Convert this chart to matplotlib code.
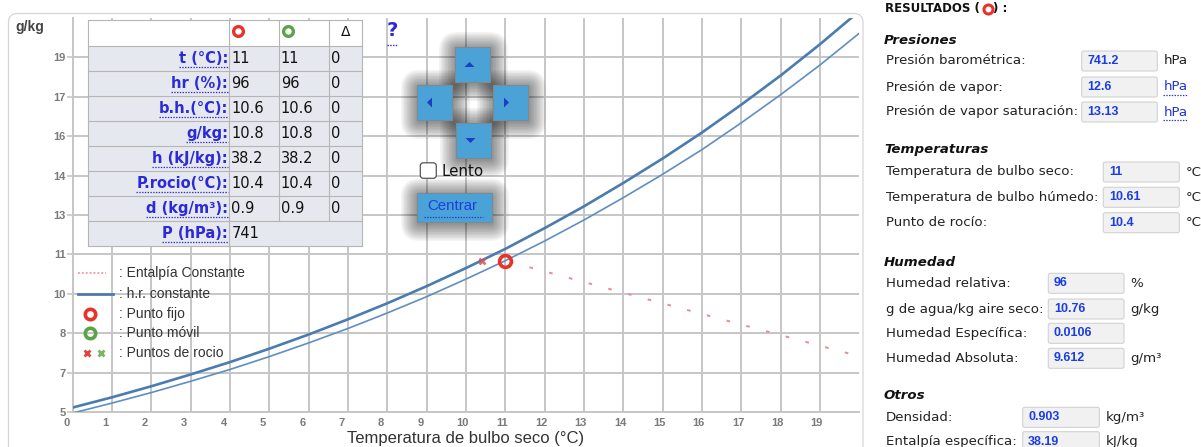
import matplotlib
matplotlib.use('Agg')
import matplotlib.pyplot as plt
from matplotlib.patches import FancyBboxPatch, Rectangle, Polygon
from matplotlib.lines import Line2D
from matplotlib.transforms import Affine2D, ScaledTranslation

# ---------------- data ----------------
temps = [0, 1, 2, 3, 4, 5, 6, 7, 8, 9, 10, 11, 12, 13, 14, 15, 16, 17, 18, 19, 20]
sat_gkg = [5.17, 5.56, 5.98, 6.43, 6.90, 7.41, 7.95, 8.53, 9.14, 9.79, 10.48,
           11.21, 12.00, 12.83, 13.72, 14.65, 15.64, 16.70, 17.81, 19.00, 20.26]
hr96_gkg = [4.96, 5.34, 5.74, 6.17, 6.62, 7.11, 7.63, 8.18, 8.77, 9.39, 10.06,
            10.76, 11.51, 12.31, 13.16, 14.05, 14.99, 16.01, 17.08, 18.21, 19.42]
enth_t = [11, 14, 17, 20]
enth_gkg = [10.76, 9.54, 8.33, 7.12]
fixed_point = (11, 10.76)
dew_point = (10.4, 10.76)

x_ticks = list(range(0, 20))
x_tick_labels = [str(v) for v in x_ticks]
y_ticks = [5, 6.5, 8, 9.5, 11, 12.5, 14, 15.5, 17, 18.5]
y_tick_labels = ['5', '7', '8', '10', '11', '13', '14', '16', '17', '19']

legend_labels = [': Entalpía Constante', ': h.r. constante', ': Punto fijo',
                 ': Punto móvil', ': Puntos de rocio']

table_row_labels = ['t (°C):', 'hr (%):', 'b.h.(°C):', 'g/kg:', 'h (kJ/kg):',
                    'P.rocio(°C):', 'd (kg/m³):', 'P (hPa):']
table_fixed = ['11', '96', '10.6', '10.8', '38.2', '10.4', '0.9', '741']
table_mobile = ['11', '96', '10.6', '10.8', '38.2', '10.4', '0.9']
table_delta = ['0', '0', '0', '0', '0', '0', '0']

section_titles = ['Presiones', 'Temperaturas', 'Humedad', 'Otros']
pres_labels = ['Presión barométrica:', 'Presión de vapor:', 'Presión de vapor saturación:']
pres_values = ['741.2', '12.6', '13.13']
pres_units = ['hPa', 'hPa', 'hPa']
temp_labels = ['Temperatura de bulbo seco:', 'Temperatura de bulbo húmedo:', 'Punto de rocío:']
temp_values = ['11', '10.61', '10.4']
temp_units = ['°C', '°C', '°C']
hum_labels = ['Humedad relativa:', 'g de agua/kg aire seco:', 'Humedad Específica:', 'Humedad Absoluta:']
hum_values = ['96', '10.76', '0.0106', '9.612']
hum_units = ['%', 'g/kg', '', 'g/m³']
otros_labels = ['Densidad:', 'Entalpía específica:']
otros_values = ['0.903', '38.19']
otros_units = ['kg/m³', 'kJ/kg']

# ---------------- figure ----------------
W, H = 1201, 447
plt.rcParams['lines.scale_dashes'] = False
fig = plt.figure(figsize=(W / 100, H / 100), dpi=100)
fig.patch.set_facecolor('white')
T = Affine2D().scale(1 / W, -1 / H).translate(0, 1) + fig.transFigure

ARIAL = 'Liberation Sans'
VERD = 'DejaVu Sans'
BLUE_LINK = '#2233dd'
underlines = []


def ptext(x, y, s, **kw):
    kw.setdefault('va', 'center')
    t = fig.text(x, y, s, transform=T, **kw)
    return t


def prect(x, y, w, h, fc, ec='none', lw=0.8, z=5, r=0, alpha=1.0):
    if r > 0:
        p = FancyBboxPatch((x, y), w, h, boxstyle=f'round,pad=0,rounding_size={r}',
                           transform=T, fc=fc, ec=ec, lw=lw, zorder=z, alpha=alpha)
    else:
        p = Rectangle((x, y), w, h, transform=T, fc=fc, ec=ec, lw=lw, zorder=z, alpha=alpha)
    fig.add_artist(p)
    return p


def pline(xs, ys, **kw):
    l = Line2D(xs, ys, transform=T, **kw)
    fig.add_artist(l)
    return l


# outer frame of the chart
prect(8.5, 13.5, 854.5, 480, fc='white', ec='#d6d6d6', lw=0.9, z=0, r=9)

# ---------------- main axes ----------------
x0, x1, ytop, ybot = 72.7, 859.3, 18.0, 412.0
ax = fig.add_axes([x0 / W, 1 - ybot / H, (x1 - x0) / W, (ybot - ytop) / H])
ax.set_zorder(1)
ax.patch.set_alpha(0)
ax.set_xlim(0, 20)
ax.set_ylim(5, 20)
grid_c = '#c6c6c6'
ax.set_xticks(x_ticks)
ax.set_xticklabels(x_tick_labels)
ax.set_yticks(y_ticks)
ax.set_yticklabels(y_tick_labels)
ax.grid(True, color=grid_c, lw=1.4)
for s in ['top', 'right']:
    ax.spines[s].set_visible(False)
for s in ['left', 'bottom']:
    ax.spines[s].set_color(grid_c)
    ax.spines[s].set_linewidth(1.4)
ax.tick_params(axis='y', length=4, color=grid_c, width=1.2, pad=1,
               labelsize=8, labelcolor='#7a7a7a')
ax.tick_params(axis='x', length=0, pad=4, labelsize=8, labelcolor='#7a7a7a')
for lab in ax.get_yticklabels() + ax.get_xticklabels():
    lab.set_fontfamily(ARIAL)
    lab.set_fontweight('bold')
for lab in ax.get_xticklabels():
    lab.set_ha('left')
    lab.set_transform(lab.get_transform() + ScaledTranslation(-9.5 / 100, 0, fig.dpi_scale_trans))

ax.plot(temps, sat_gkg, color='#4a7cb0', lw=1.9, zorder=3)
ax.plot(temps, hr96_gkg, color='#5f8fc1', lw=1.2, zorder=3)
ax.plot(enth_t, enth_gkg, color='#ec8a92', lw=1.4, zorder=3,
        linestyle=(11.4, (2.6, 12.1)))
ax.plot([dew_point[0]], [dew_point[1]], marker='x', ms=5, mew=1.8,
        color='#d8524f', alpha=0.85, zorder=4, ls='none')
ax.plot([fixed_point[0]], [fixed_point[1]], marker='o', ms=8.5, mew=2.6,
        mfc='none', mec='#e8332a', zorder=5, ls='none')

ptext(29.5, 27, 'g/kg', ha='center', fontsize=10, fontweight='bold', color='#444', family=ARIAL)
ptext(466, 439, 'Temperatura de bulbo seco (°C)', ha='center', fontsize=12,
      color='#333', family=ARIAL)

# ---------------- legend ----------------
leg_y = [273.3, 294, 314, 333.3, 352.7]
pline([78, 106], [leg_y[0]] * 2, color='#f08d95', lw=1.2, linestyle=(0, (1.3, 1.5)), zorder=6)
pline([78, 113], [leg_y[1]] * 2, color='#4a7cb0', lw=2.0, zorder=6)
pline([90], [leg_y[2]], marker='o', ms=7.5, mew=2.6, mfc='none', mec='#e8332a', zorder=6)
pline([90], [leg_y[3]], marker='o', ms=7.5, mew=2.6, mfc='none', mec='#5aa447', zorder=6)
pline([86.7], [leg_y[4]], marker='x', ms=4.5, mew=2.0, color='#e0453c', zorder=6)
pline([100.7], [leg_y[4]], marker='x', ms=4.5, mew=2.0, color='#78b85c', zorder=6)
for yy, s in zip(leg_y, legend_labels):
    ptext(119.3, yy, s, ha='left', fontsize=10, color='#333', family=ARIAL, zorder=6)

# ---------------- data table ----------------
tx0, tx1 = 87.5, 361.7
cols = [229.3, 279.3, 329.3]
row_top = 46.0
row_h = 25.0
nrows = len(table_row_labels)
tbot = row_top + nrows * row_h
prect(tx0, 20, tx1 - tx0, row_top - 20, fc='white', z=7)
prect(tx0, row_top, tx1 - tx0, tbot - row_top, fc='#e6e8ef', z=7)
bc = '#b5b5b5'
for i in range(nrows + 1):
    yy = row_top + i * row_h
    pline([tx0, tx1], [yy, yy], color=bc, lw=0.8, zorder=8)
pline([tx0, tx1], [20, 20], color=bc, lw=0.8, zorder=8)
pline([tx0, tx0], [20, tbot], color=bc, lw=0.8, zorder=8)
pline([tx1, tx1], [20, tbot], color=bc, lw=0.8, zorder=8)
pline([cols[0], cols[0]], [20, tbot], color=bc, lw=0.8, zorder=8)
for c in cols[1:]:
    pline([c, c], [20, tbot - row_h], color=bc, lw=0.8, zorder=8)
# header icons
pline([238.3], [30.5], marker='o', ms=7, mew=2.4, mfc='none', mec='#e8332a', zorder=9)
pline([288.3], [30.5], marker='o', ms=7, mew=2.4, mfc='none', mec='#5aa447', zorder=9)
ptext(345.5, 32, 'Δ', ha='center', fontsize=10, color='#111', family=VERD, zorder=9)
for i, lab in enumerate(table_row_labels):
    yc = row_top + (i + 0.5) * row_h
    t = ptext(228, yc, lab, ha='right', fontsize=10.5, fontweight='bold',
              color='#2a2ad8', family=VERD, zorder=9)
    underlines.append((t, 8.5, '#2a2ad8'))
    ptext(cols[0] + 2, yc, table_fixed[i], ha='left', fontsize=10.5, color='#111',
          family=VERD, zorder=9)
    if i < len(table_mobile):
        ptext(cols[1] + 1.5, yc, table_mobile[i], ha='left', fontsize=10.5, color='#111',
              family=VERD, zorder=9)
        ptext(cols[2] + 1.5, yc, table_delta[i], ha='left', fontsize=10.5, color='#111',
              family=VERD, zorder=9)

# question mark
q = ptext(392, 31, '?', ha='center', fontsize=14, fontweight='bold', color='#2a2ad8',
          family=VERD, zorder=9)
pline([386.5, 397.5], [44.5, 44.5], color='#2a2ad8', lw=1.0, linestyle=(0, (1, 1)), zorder=9)


# ---------------- navigation buttons ----------------
def shadow(x, y, w, h, z=6):
    for k in range(12, 0, -1):
        prect(x - k * 1.5 + 2, y - k * 1.5 + 3, w + k * 3 - 2, h + k * 3 - 2,
              fc='black', z=z, r=k * 1.5 + 1, alpha=0.045)


btn_fc = '#4ba2d6'
btns = {'up': (455, 47, 35, 35), 'left': (417, 85, 35, 35),
        'right': (493, 85, 35, 35), 'down': (456, 123, 35, 35)}
for (x, y, w, h) in btns.values():
    shadow(x, y, w, h)
shadow(417, 193.5, 74, 28.5)
for name, (x, y, w, h) in btns.items():
    prect(x, y, w, h, fc=btn_fc, ec='#7c8a96', lw=0.8, z=8)
    cx, cy = x + w / 2 - 3, y + h / 2
    if name == 'up':
        pts = [(cx - 5, cy + 2.5), (cx + 5, cy + 2.5), (cx, cy - 2.5)]
    elif name == 'down':
        pts = [(cx - 5, cy - 2.5), (cx + 5, cy - 2.5), (cx, cy + 2.5)]
    elif name == 'left':
        cx -= 2
        pts = [(cx + 2.5, cy - 5), (cx + 2.5, cy + 5), (cx - 2.5, cy)]
    else:
        cx -= 1
        pts = [(cx - 2.5, cy - 5), (cx - 2.5, cy + 5), (cx + 2.5, cy)]
    fig.add_artist(Polygon(pts, closed=True, transform=T, fc='#1d3fc4', ec='none', zorder=9))

# checkbox
prect(420.3, 162.8, 16, 15.5, fc='white', ec='#555', lw=0.9, z=8, r=3)
ptext(441.5, 172, 'Lento', ha='left', fontsize=10.8, color='#111', family=VERD, zorder=9)

# centrar button
prect(416.7, 193.3, 75, 28.4, fc=btn_fc, ec='#7c8a96', lw=0.8, z=8)
ptext(452.5, 206.5, 'Centrar', ha='center', fontsize=10.8, color='#1b3fe0', family=ARIAL, zorder=9)
pline([424, 483], [216.5, 216.5], color='#1b3fe0', lw=0.9, linestyle=(0, (1, 1)), zorder=9)

# ---------------- results panel ----------------
LBL = dict(fontsize=9.6, color='#222', family=VERD)
ptext(885, 8.5, 'RESULTADOS (', ha='left', fontsize=8.5, fontweight='bold', color='#111', family=VERD)
pline([987.5], [8.5], marker='o', ms=6.5, mew=2.2, mfc='none', mec='#e8332a')
ptext(993, 8.5, ') :', ha='left', fontsize=8.5, fontweight='bold', color='#111', family=VERD)

sections = [
    (section_titles[0], 40.0, [61, 87, 112], (1081.7, 1157.3), pres_labels, pres_values, pres_units,
     [False, True, True]),
    (section_titles[1], 150.0, [172, 197.3, 222.7], (1103.3, 1179.3), temp_labels, temp_values, temp_units,
     [False, False, False]),
    (section_titles[2], 262.7, [283.3, 309, 333.3, 358.3], (1048.3, 1124), hum_labels, hum_values, hum_units,
     [False] * 4),
    (section_titles[3], 395.7, [417.3, 441.7], (1022.7, 1099.3), otros_labels, otros_values, otros_units,
     [False, False]),
]
for title, ty, ys, (bx0, bx1), labs, vals, units, links in sections:
    ptext(884, ty, title, ha='left', fontsize=9.6, fontweight='bold', fontstyle='italic',
          color='#111', family=VERD)
    for yy, lab, val, un, lk in zip(ys, labs, vals, units, links):
        ptext(886, yy, lab, ha='left', **LBL)
        prect(bx0, yy - 10, bx1 - bx0, 20, fc='#f1f1f1', ec='#d2d2d2', lw=0.8, z=2, r=2)
        ptext(bx0 + 5.5, yy, val, ha='left', fontsize=9, fontweight='bold', color='#1a3de6',
              family=ARIAL)
        if un:
            t = ptext(bx1 + 6, yy, un, ha='left', fontsize=9.6,
                      color=BLUE_LINK if lk else '#222', family=VERD)
            if lk:
                underlines.append((t, 8.0, BLUE_LINK))

# dotted underlines for link-like texts
fig.canvas.draw()
r = fig.canvas.get_renderer()
for t, dy, col in underlines:
    bb = t.get_window_extent(r)
    yc = H - (bb.y0 + bb.y1) / 2
    pline([bb.x0, bb.x1], [yc + dy, yc + dy], color=col, lw=0.9,
          linestyle=(0, (1, 1)), zorder=9)

fig.savefig('out.png', dpi=100, facecolor='white')
